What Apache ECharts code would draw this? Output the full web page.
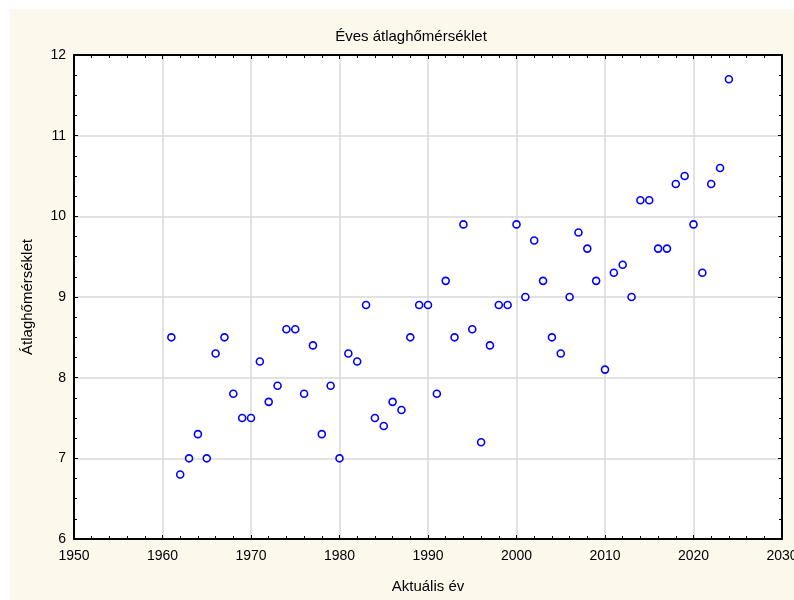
<!DOCTYPE html>
<html>
<head>
<meta charset="utf-8">
<script src="https://cdn.jsdelivr.net/npm/echarts@6/dist/echarts.min.js"></script>
<style>
html,body{margin:0;padding:0;background:#fff;}
#chart{width:794px;height:600px;}
</style>
</head>
<body>
<div id="chart"></div>
<script>
const years = [1961,1962,1963,1964,1965,1966,1967,1968,1969,1970,
  1971,1972,1973,1974,1975,1976,1977,1978,1979,1980,
  1981,1982,1983,1984,1985,1986,1987,1988,1989,1990,
  1991,1992,1993,1994,1995,1996,1997,1998,1999,2000,
  2001,2002,2003,2004,2005,2006,2007,2008,2009,2010,
  2011,2012,2013,2014,2015,2016,2017,2018,2019,2020,
  2021,2022,2023,2024];
const temps = [8.5,6.8,7.0,7.3,7.0,8.3,8.5,7.8,7.5,7.5,
  8.2,7.7,7.9,8.6,8.6,7.8,8.4,7.3,7.9,7.0,
  8.3,8.2,8.9,7.5,7.4,7.7,7.6,8.5,8.9,8.9,
  7.8,9.2,8.5,9.9,8.6,7.2,8.4,8.9,8.9,9.9,
  9.0,9.7,9.2,8.5,8.3,9.0,9.8,9.6,9.2,8.1,
  9.3,9.4,9.0,10.2,10.2,9.6,9.6,10.4,10.5,9.9,
  9.3,10.4,10.6,11.7];
const titleText = 'Éves átlaghőmérséklet';
const xName = 'Aktuális év';
const yName = 'Átlaghőmérséklet';

const font = "'Liberation Sans', Arial, sans-serif";
const chart = echarts.init(document.getElementById('chart'), null, {renderer: 'canvas'});

const axisCommon = {
  axisLine: {show: true, onZero: false, lineStyle: {color: '#000', width: 2}},
  axisTick: {show: true, inside: true, length: 4, lineStyle: {color: '#000', width: 1}},
  minorTick: {show: true, splitNumber: 4, length: 3, lineStyle: {color: '#000', width: 1}},
};
const xMinor = {show: true, splitNumber: 5, length: 3, lineStyle: {color: '#000', width: 1}};

chart.setOption({
  animation: false,
  backgroundColor: '#ffffff',
  graphic: [{
    type: 'rect', left: 10, top: 9, z: -10,
    shape: {width: 784, height: 591},
    style: {fill: '#fdf8ec'}
  }],
  title: {
    text: titleText,
    left: 406, top: 24, textAlign: 'center',
    textStyle: {fontFamily: font, fontSize: 15, fontWeight: 'normal', color: '#000'}
  },
  grid: {left: 74, right: 12, top: 55, bottom: 61, show: true, backgroundColor: '#ffffff', borderWidth: 0,
    containLabel: false, outerBoundsMode: 'none'},
  xAxis: [{
    type: 'value', min: 1950, max: 2030, interval: 10,
    name: xName, nameLocation: 'middle', nameGap: 40,
    nameTextStyle: {fontFamily: font, fontSize: 15, color: '#000'},
    ...axisCommon,
    minorTick: xMinor,
    axisLabel: {fontFamily: font, fontSize: 14, color: '#000', margin: 10, hideOverlap: false,
      showMinLabel: true, showMaxLabel: true, formatter: v => String(v)},
    splitLine: {show: true, lineStyle: {color: '#d8d8d8', width: 1.5}}
  }, {
    type: 'value', min: 1950, max: 2030, interval: 10, position: 'top',
    ...axisCommon,
    minorTick: xMinor,
    axisLabel: {show: false}, splitLine: {show: false}
  }],
  yAxis: [{
    type: 'value', min: 6, max: 12, interval: 1,
    name: yName, nameLocation: 'middle', nameGap: 39, nameRotate: 90,
    nameTextStyle: {fontFamily: font, fontSize: 15, color: '#000'},
    ...axisCommon,
    axisLabel: {fontFamily: font, fontSize: 14, color: '#000', margin: 8, formatter: v => String(v)},
    splitLine: {show: true, lineStyle: {color: '#d8d8d8', width: 1.5}}
  }, {
    type: 'value', min: 6, max: 12, interval: 1, position: 'right',
    ...axisCommon,
    axisLabel: {show: false}, splitLine: {show: false}
  }],
  series: [{
    type: 'scatter',
    data: years.map((y, i) => [y, temps[i]]),
    symbol: 'circle', symbolSize: 7,
    itemStyle: {color: '#ffffff', borderColor: '#0000ff', borderWidth: 1.6, opacity: 1},
    z: 5
  }]
});
</script>
</body>
</html>
